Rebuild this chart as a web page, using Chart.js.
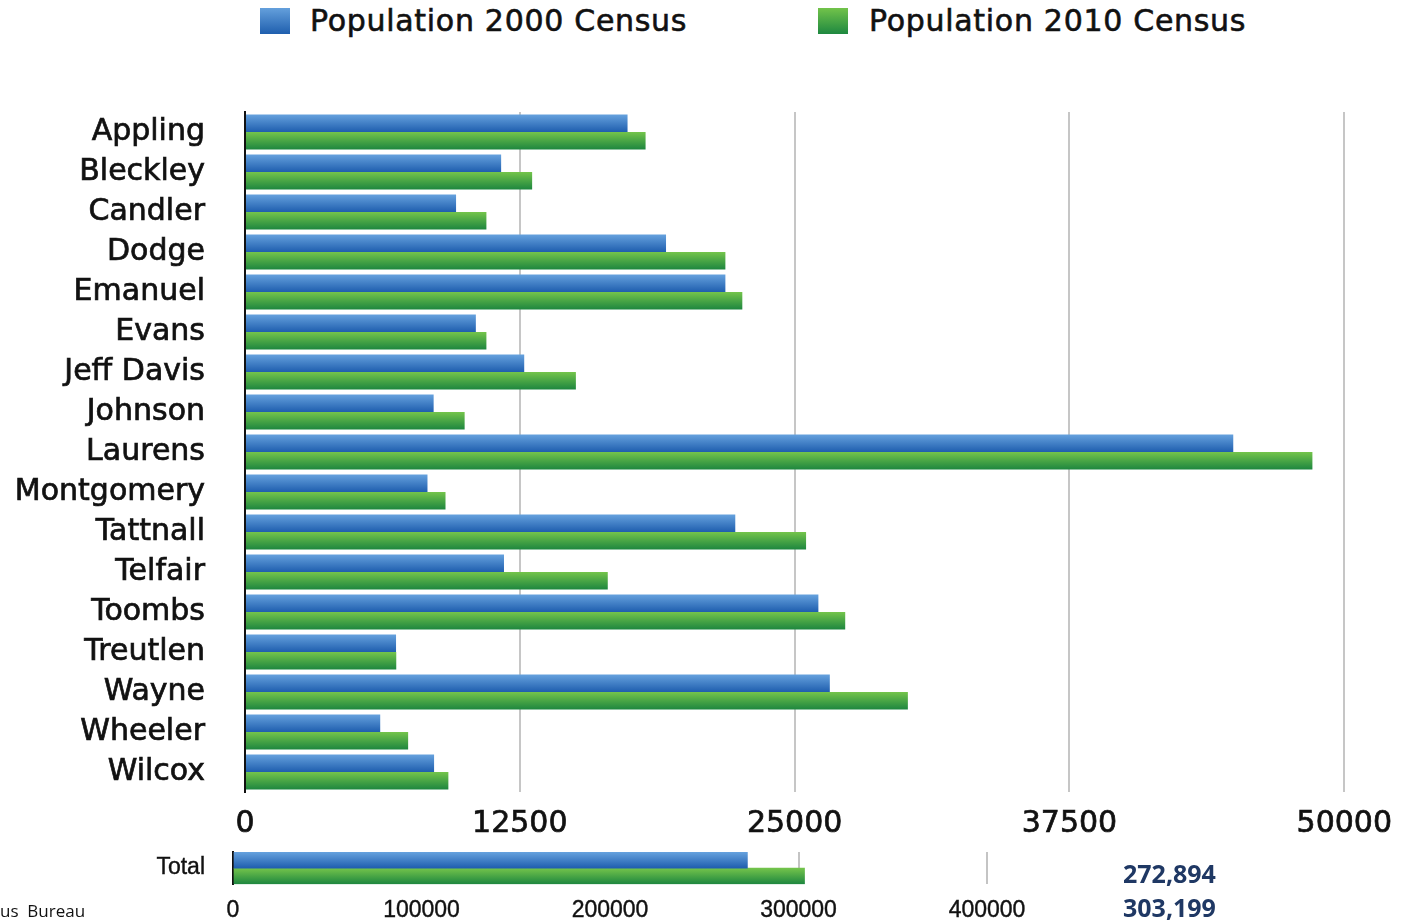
<!DOCTYPE html>
<html>
<head>
<meta charset="utf-8">
<script src="https://cdn.jsdelivr.net/npm/chart.js@4"></script>
<style>
    body { margin: 0; background: #fff; width: 1406px; height: 921px; overflow: hidden; position: relative; }
    canvas { position: absolute; left: 0; }
    .legend-box { position: absolute; width: 30px; height: 26px; top: 8px; }
    .legend-text { position: absolute; top: 3px; font: 30px "DejaVu Sans"; color: #111; line-height: 36px;
        letter-spacing: 0.7px; -webkit-text-stroke: 0.6px #111; }
    .total-value { position: absolute; left: 1123px; font: bold 25px "Open Sans"; color: #1f3864; line-height: 30px; }
    #source { position: absolute; left: 0; top: 900px; font: 17px "Open Sans"; color: #111; line-height: 22px; }
</style>
</head>
<body>
<div class="legend-box" style="left:260px;background:linear-gradient(#64a0dc,#1f5fae)"></div>
<div class="legend-text" style="left:310px">Population 2000 Census</div>
<div class="legend-box" style="left:818px;background:linear-gradient(#72c34a,#1e8840)"></div>
<div class="legend-text" style="left:869px">Population 2010 Census</div>

<canvas id="countyChart" width="1406" height="850" style="top:0"></canvas>
<canvas id="totalChart" width="1406" height="126" style="top:800px"></canvas>

<div class="total-value" style="top:858px">272,894</div>
<div class="total-value" style="top:892px">303,199</div>
<div id="source">us&nbsp; Bureau</div>

<script>
const counties = ["Appling", "Bleckley", "Candler", "Dodge", "Emanuel", "Evans", "Jeff Davis", "Johnson",
    "Laurens", "Montgomery", "Tattnall", "Telfair", "Toombs", "Treutlen", "Wayne", "Wheeler", "Wilcox"];
const pop2000 = [17400, 11650, 9600, 19150, 21850, 10500, 12700, 8580, 44950, 8300, 22300, 11780, 26080, 6870, 26600, 6150, 8600];
const pop2010 = [18220, 13060, 10980, 21850, 22620, 10980, 15050, 9990, 48550, 9120, 25520, 16500, 27300, 6880, 30150, 7420, 9250];
const countyTicks = [0, 12500, 25000, 37500, 50000];

const totalLabels = ["Total"];
const total2000 = [272894];
const total2010 = [303199];

const BLUE = ["#66a2de", "#1f5eae"];
const GREEN = ["#74c44b", "#1d863f"];

// vertical gradient per bar, worked out from the category scale
function barGradient(colors) {
    return (c) => {
        const chart = c.chart;
        const y = chart.scales.y;
        if (!y || !chart.chartArea) return colors[1];
        const center = y.getPixelForValue(c.dataIndex);
        const step = y.height / chart.data.labels.length;
        const half = step * c.dataset.categoryPercentage / 2;
        const top = c.datasetIndex === 0 ? center - half : center;
        const g = chart.ctx.createLinearGradient(0, top, 0, top + half);
        g.addColorStop(0, colors[0]);
        g.addColorStop(1, colors[1]);
        return g;
    };
}

const plainNumber = (v) => String(v);

new Chart(document.getElementById("countyChart"), {
    type: "bar",
    data: {
        labels: counties,
        datasets: [
            { label: "Population 2000 Census", data: pop2000, backgroundColor: barGradient(BLUE), categoryPercentage: 0.88, barPercentage: 1 },
            { label: "Population 2010 Census", data: pop2010, backgroundColor: barGradient(GREEN), categoryPercentage: 0.88, barPercentage: 1 },
        ],
    },
    options: {
        indexAxis: "y",
        responsive: false,
        animation: false,
        devicePixelRatio: 1,
        layout: { autoPadding: false, padding: { top: 112, right: 57, left: 0, bottom: 0 } },
        plugins: { legend: { display: false }, tooltip: { enabled: false } },
        scales: {
            y: {
                afterFit: (s) => { s.width = 245; },
                grid: { display: false, drawTicks: false },
                border: { display: true, color: "#111", width: 2 },
                ticks: {
                    font: { family: "DejaVu Sans", size: 30 }, color: "#111", padding: 40,
                    textStrokeColor: "#111", textStrokeWidth: 0.7,
                },
            },
            x: {
                min: 0,
                max: 50000,
                afterFit: (s) => { s.height = 54; },
                afterBuildTicks: (s) => { s.ticks = countyTicks.map((v) => ({ value: v })); },
                grid: { color: (c) => (c.index === 0 ? "rgba(0,0,0,0)" : "#c6c6c6"), lineWidth: 2, drawTicks: false },
                border: { display: false },
                ticks: {
                    callback: plainNumber, font: { family: "DejaVu Sans", size: 30 }, color: "#111", padding: 14,
                    textStrokeColor: "#111", textStrokeWidth: 0.7,
                },
            },
        },
    },
});

new Chart(document.getElementById("totalChart"), {
    type: "bar",
    data: {
        labels: totalLabels,
        datasets: [
            { label: "Population 2000 Census", data: total2000, backgroundColor: barGradient(BLUE), categoryPercentage: 1, barPercentage: 1 },
            { label: "Population 2010 Census", data: total2010, backgroundColor: barGradient(GREEN), categoryPercentage: 1, barPercentage: 1 },
        ],
    },
    options: {
        indexAxis: "y",
        responsive: false,
        animation: false,
        devicePixelRatio: 1,
        layout: { autoPadding: false, padding: { top: 52, right: 419, left: 0, bottom: 0 } },
        plugins: { legend: { display: false }, tooltip: { enabled: false } },
        scales: {
            y: {
                afterFit: (s) => { s.width = 233; },
                grid: { display: false, drawTicks: false },
                border: { display: true, color: "#111", width: 2 },
                ticks: {
                    font: { family: "Liberation Sans", size: 23 }, color: "#111", padding: 28,
                    textStrokeColor: "#111", textStrokeWidth: 0.4,
                },
            },
            x: {
                min: 0,
                max: 400000,
                afterFit: (s) => { s.height = 37; },
                grid: {
                    color: (c) => (c.index === 0 ? "rgba(0,0,0,0)" : c.index < 3 ? "#e2e2e2" : "#c4c4c4"),
                    lineWidth: 2,
                    drawTicks: false,
                },
                border: { display: false },
                ticks: {
                    stepSize: 100000, callback: plainNumber,
                    font: { family: "Liberation Sans", size: 23 }, color: "#111", padding: 13,
                    textStrokeColor: "#111", textStrokeWidth: 0.4,
                },
            },
        },
    },
});
</script>
</body>
</html>
